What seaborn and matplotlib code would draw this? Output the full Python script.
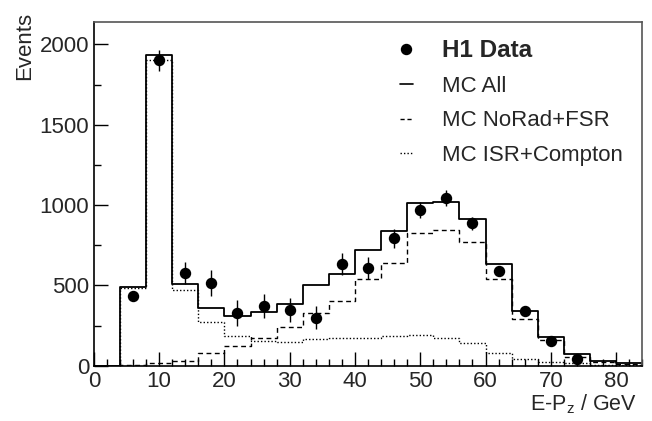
import pandas as pd
import matplotlib
matplotlib.use("Agg")
import matplotlib.pyplot as plt
from matplotlib.lines import Line2D
from matplotlib.ticker import MultipleLocator
import seaborn as sns

sns.set_style("ticks")
plt.rcParams["font.family"] = ["Liberation Sans", "DejaVu Sans"]
plt.rcParams["mathtext.fontset"] = "custom"
plt.rcParams["mathtext.rm"] = "Liberation Sans"
plt.rcParams["mathtext.it"] = "Liberation Sans"

# data (4 GeV bins, first bin 0-4 is empty)
bin_edges = list(range(0, 88, 4))
bin_centers = [e + 2 for e in bin_edges[:-1]]
mc_all = [0, 490, 1932, 511, 360, 310, 333, 383, 500, 569, 718, 840, 1011, 1020, 914,
          631, 339, 180, 73, 31, 15]
mc_norad_fsr = [0, 3, 20, 28, 81, 126, 176, 244, 329, 405, 540, 639, 825, 848, 769,
                538, 290, 160, 56, 23, 10]
mc_isr_compton = [0, 482, 1900, 474, 273, 184, 155, 147, 164, 172, 172, 186, 195, 176, 143,
                  81, 43, 25, 15, 8, 3]
data_x = [6, 10, 14, 18, 22, 26, 30, 34, 38, 42, 46, 50, 54, 58, 62, 66, 70, 74]
data_y = [434, 1900, 579, 515, 329, 372, 346, 300, 633, 608, 794, 968, 1045, 887,
          589, 339, 155, 42]
data_err = [25, 65, 70, 80, 80, 75, 75, 70, 70, 70, 60, 50, 48, 40, 30, 25, 20, 15]

mc = pd.DataFrame({"E-Pz": bin_centers, "all": mc_all, "norad": mc_norad_fsr,
                   "isr": mc_isr_compton})

fig = plt.figure(figsize=(6.52, 4.21), dpi=100)
ax = fig.add_axes([0.144, 0.131, 0.841, 0.817])

styles = [("all", "-", 1.3), ("norad", (0, (3.5, 2.5)), 1.0), ("isr", (0, (1, 1.5)), 1.0)]
for col, ls, lw in styles:
    sns.histplot(data=mc, x="E-Pz", weights=col, bins=bin_edges, element="step", fill=False,
                 color="black", linewidth=lw, linestyle=ls, ax=ax)
ax.errorbar(data_x, data_y, yerr=data_err, fmt="o", color="black", markersize=7.2,
            elinewidth=1.0, capsize=0, zorder=5)

ax.set_xlim(0, 84)
ax.set_ylim(0, 2140)
ax.xaxis.set_major_locator(MultipleLocator(10))
ax.xaxis.set_minor_locator(MultipleLocator(2))
ax.yaxis.set_major_locator(MultipleLocator(500))
ax.yaxis.set_minor_locator(MultipleLocator(250))
ax.tick_params(which="both", direction="in", labelsize=16, color="black")
ax.tick_params(which="major", length=10, width=1)
ax.tick_params(which="minor", length=5, width=1)
for s in ax.spines.values():
    s.set_color("#555555")
    s.set_linewidth(1.2)
ax.spines["left"].set_color("black")
ax.spines["bottom"].set_color("black")

ax.set_ylabel("Events", fontsize=16, loc="top")
ax.yaxis.set_label_coords(-0.108, 1.028)
ax.set_xlabel("E-P$_z$ / GeV", fontsize=15.5, loc="right")
ax.xaxis.set_label_coords(0.99, -0.076)

handles = [
    Line2D([], [], marker="o", color="black", linestyle="none", markersize=7.2),
    Line2D([], [], color="black", linewidth=1.2),
    Line2D([], [], color="black", linewidth=1.0, linestyle=(0, (3, 2))),
    Line2D([], [], color="black", linewidth=1.0, linestyle=(0, (1, 1.5))),
]
labels = ["H1 Data", "MC All", "MC NoRad+FSR", "MC ISR+Compton"]
leg = ax.legend(handles, labels, loc="upper left", bbox_to_anchor=(0.613, 0.908),
                bbox_transform=fig.transFigure, frameon=False, fontsize=16,
                handlelength=0.6, handletextpad=1.3, labelspacing=0.62, borderpad=0,
                borderaxespad=0)
leg.get_texts()[0].set_fontweight("bold")
leg.get_texts()[0].set_fontsize(17.5)

fig.savefig("out.png", dpi=100)
